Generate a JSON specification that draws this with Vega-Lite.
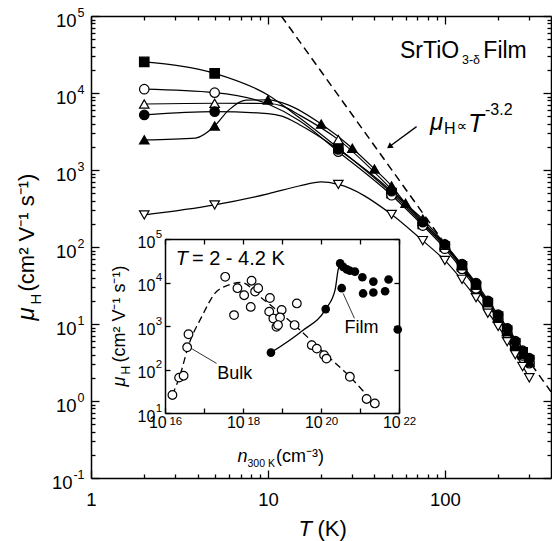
{
"$schema": "https://vega.github.io/schema/vega-lite/v6.json",
"width": 460, "height": 462,
"autosize": {"type": "none"},
"padding": {"left": 91, "top": 16, "right": 1, "bottom": 63},
"config": {"view": {"stroke": null}, "font": "Liberation Sans",
  "axis": {"grid": false, "domainColor": "black", "tickColor": "black", "labelColor": "black", "titleColor": "black", "domainWidth": 1.5, "tickWidth": 1.3, "labelFont": "Liberation Sans", "titleFont": "Liberation Sans", "titleFontWeight": "normal", "labelOverlap": false, "labelFlush": false, "labelBound": false}},
"datasets": {
 "dash": [{"T": 11.9, "mu": 100000}, {"T": 398, "mu": 1.32}],
 "curves": [
  {"s":"sq","T":2,"mu":25300},{"s":"sq","T":5,"mu":18000},{"s":"sq","T":10,"mu":9400},{"s":"sq","T":15,"mu":4800},{"s":"sq","T":25,"mu":1920},{"s":"sq","T":50,"mu":500},{"s":"sq","T":75,"mu":200},{"s":"sq","T":100,"mu":101},{"s":"sq","T":150,"mu":31},{"s":"sq","T":200,"mu":12.5},{"s":"sq","T":300,"mu":3.4},
  {"s":"oc","T":2,"mu":11200},{"s":"oc","T":5,"mu":10100},{"s":"oc","T":10,"mu":7200},{"s":"oc","T":15,"mu":4400},{"s":"oc","T":25,"mu":1730},{"s":"oc","T":50,"mu":470},{"s":"oc","T":75,"mu":190},{"s":"oc","T":100,"mu":95},{"s":"oc","T":150,"mu":29},{"s":"oc","T":200,"mu":11.5},{"s":"oc","T":300,"mu":3.1},
  {"s":"ot","T":2,"mu":7200},{"s":"ot","T":5,"mu":7360},{"s":"ot","T":10,"mu":7300},{"s":"ot","T":12,"mu":6800},{"s":"ot","T":15,"mu":5200},{"s":"ot","T":25,"mu":2480},{"s":"ot","T":50,"mu":560},{"s":"ot","T":75,"mu":215},{"s":"ot","T":100,"mu":105},{"s":"ot","T":150,"mu":32},{"s":"ot","T":200,"mu":12},{"s":"ot","T":300,"mu":3.2},
  {"s":"fc","T":2,"mu":5190},{"s":"fc","T":5,"mu":5730},{"s":"fc","T":10,"mu":5400},{"s":"fc","T":12,"mu":5000},{"s":"fc","T":15,"mu":3900},{"s":"fc","T":25,"mu":1850},{"s":"fc","T":50,"mu":530},{"s":"fc","T":75,"mu":210},{"s":"fc","T":100,"mu":108},{"s":"fc","T":150,"mu":34},{"s":"fc","T":200,"mu":13.2},{"s":"fc","T":300,"mu":3.6},
  {"s":"ft","T":2,"mu":2460},{"s":"ft","T":3.9,"mu":2600},{"s":"ft","T":5,"mu":3730},{"s":"ft","T":6,"mu":6000},{"s":"ft","T":7.5,"mu":8100},{"s":"ft","T":10,"mu":8130},{"s":"ft","T":13,"mu":7000},{"s":"ft","T":20,"mu":3950},{"s":"ft","T":30,"mu":1920},{"s":"ft","T":40,"mu":1030},{"s":"ft","T":50,"mu":620},{"s":"ft","T":60,"mu":370},{"s":"ft","T":75,"mu":230},{"s":"ft","T":100,"mu":110},{"s":"ft","T":150,"mu":32},{"s":"ft","T":200,"mu":12},{"s":"ft","T":300,"mu":3.2},
  {"s":"od","T":2,"mu":261},{"s":"od","T":5,"mu":352},{"s":"od","T":10,"mu":490},{"s":"od","T":15,"mu":620},{"s":"od","T":20,"mu":700},{"s":"od","T":25,"mu":650},{"s":"od","T":50,"mu":265},{"s":"od","T":75,"mu":121},{"s":"od","T":100,"mu":67},{"s":"od","T":150,"mu":22},{"s":"od","T":200,"mu":9.3},{"s":"od","T":300,"mu":2.0}
 ],
 "pts": [
  {"s":"sq","T":2,"mu":25300},{"s":"sq","T":5,"mu":18000},{"s":"sq","T":25,"mu":1920},{"s":"sq","T":50,"mu":500},{"s":"sq","T":75,"mu":200},{"s":"sq","T":100,"mu":101},{"s":"sq","T":125,"mu":56},{"s":"sq","T":150,"mu":31},{"s":"sq","T":175,"mu":18.7},{"s":"sq","T":200,"mu":12.5},{"s":"sq","T":225,"mu":8.2},{"s":"sq","T":250,"mu":5.6},{"s":"sq","T":275,"mu":4.3},{"s":"sq","T":300,"mu":3.4},
  {"s":"oc","T":2,"mu":11200},{"s":"oc","T":5,"mu":10100},{"s":"oc","T":25,"mu":1730},{"s":"oc","T":50,"mu":470},{"s":"oc","T":75,"mu":190},{"s":"oc","T":100,"mu":95},{"s":"oc","T":125,"mu":52},{"s":"oc","T":150,"mu":29},{"s":"oc","T":175,"mu":17},{"s":"oc","T":200,"mu":11.5},{"s":"oc","T":225,"mu":7.5},{"s":"oc","T":250,"mu":5.2},{"s":"oc","T":275,"mu":3.9},{"s":"oc","T":300,"mu":3.1},
  {"s":"ot","T":2,"mu":7200},{"s":"ot","T":5,"mu":7360},{"s":"ot","T":25,"mu":2480},{"s":"ot","T":50,"mu":560},{"s":"ot","T":75,"mu":215},{"s":"ot","T":100,"mu":105},{"s":"ot","T":125,"mu":57},{"s":"ot","T":150,"mu":32},{"s":"ot","T":175,"mu":19},{"s":"ot","T":200,"mu":12},{"s":"ot","T":225,"mu":8},{"s":"ot","T":250,"mu":5.5},{"s":"ot","T":275,"mu":4},{"s":"ot","T":300,"mu":3.2},
  {"s":"fc","T":2,"mu":5190},{"s":"fc","T":5,"mu":5730},{"s":"fc","T":25,"mu":1850},{"s":"fc","T":50,"mu":530},{"s":"fc","T":75,"mu":210},{"s":"fc","T":100,"mu":108},{"s":"fc","T":125,"mu":60},{"s":"fc","T":150,"mu":34},{"s":"fc","T":175,"mu":20},{"s":"fc","T":200,"mu":13.2},{"s":"fc","T":225,"mu":8.8},{"s":"fc","T":250,"mu":6},{"s":"fc","T":275,"mu":4.5},{"s":"fc","T":300,"mu":3.6},
  {"s":"ft","T":2,"mu":2460},{"s":"ft","T":5,"mu":3730},{"s":"ft","T":10,"mu":8130},{"s":"ft","T":20,"mu":3950},{"s":"ft","T":30,"mu":1920},{"s":"ft","T":40,"mu":1030},{"s":"ft","T":50,"mu":620},{"s":"ft","T":60,"mu":370},{"s":"ft","T":75,"mu":230},{"s":"ft","T":100,"mu":110},{"s":"ft","T":125,"mu":58},{"s":"ft","T":150,"mu":32},{"s":"ft","T":175,"mu":19},{"s":"ft","T":200,"mu":12},{"s":"ft","T":225,"mu":8},{"s":"ft","T":250,"mu":5.3},{"s":"ft","T":275,"mu":4},{"s":"ft","T":300,"mu":3.2},
  {"s":"od","T":2,"mu":261},{"s":"od","T":5,"mu":352},{"s":"od","T":25,"mu":650},{"s":"od","T":50,"mu":265},{"s":"od","T":75,"mu":121},{"s":"od","T":100,"mu":67},{"s":"od","T":125,"mu":38},{"s":"od","T":150,"mu":22},{"s":"od","T":175,"mu":13.8},{"s":"od","T":200,"mu":9.3},{"s":"od","T":225,"mu":5.9},{"s":"od","T":250,"mu":4.0},{"s":"od","T":275,"mu":2.8},{"s":"od","T":300,"mu":2.0}
 ],
 "arrow": [{"T": 69.2, "mu": 3660}, {"T": 48.7, "mu": 2020}],
 "arrowhead": [{"T": 48.6, "mu": 2010}],
 "mainBig": [{"T": 55.8, "mu": 28200, "t": "SrTiO"}, {"T": 165, "mu": 28200, "t": "Film"}],
 "mainProp": [{"T": 116.7, "mu": 3210, "t": "∝"}],
 "mainMu": [{"T": 82.3, "mu": 3310, "t": "μ"}],
 "mainT": [{"T": 135, "mu": 3070, "t": "T"}],
 "mainSub": [{"T": 125, "mu": 23800, "t": "3-δ"}],
 "mainSmall": [{"T": 98.9, "mu": 2940, "t": "H"}, {"T": 168.6, "mu": 5190, "t": "-3.2"}],
 "box": [{"x1": 1e16, "x2": 1e22, "y1": 10, "y2": 100000}],
 "bulkCurve": [{"n":1.55e16,"mu":26},{"n":2.5e16,"mu":80},{"n":4e16,"mu":355},{"n":8.7e16,"mu":1620},{"n":1.9e17,"mu":5600},{"n":4.2e17,"mu":8700},{"n":8.9e17,"mu":10000},{"n":3.2e18,"mu":4200},{"n":2.1e19,"mu":1050},{"n":1e20,"mu":280},{"n":5.5e20,"mu":68},{"n":2.4e21,"mu":16}],
 "filmCurve": [{"n":5.2e18,"mu":245},{"n":3.2e19,"mu":760},{"n":1.32e20,"mu":2450},{"n":2.3e20,"mu":6800},{"n":2.75e20,"mu":19500},{"n":3.1e20,"mu":27500}],
 "bulk": [{"n":1.55e16,"mu":26},{"n":2.3e16,"mu":65},{"n":3.0e16,"mu":72},{"n":3.7e16,"mu":324},{"n":4.0e16,"mu":646},{"n":3.5e17,"mu":13500},{"n":5.9e17,"mu":1780},{"n":7.2e17,"mu":7400},{"n":1.07e18,"mu":5100},{"n":1.66e18,"mu":11000},{"n":1.58e18,"mu":2750},{"n":2.04e18,"mu":6200},{"n":2.45e18,"mu":7400},{"n":4.9e18,"mu":4400},{"n":4.7e18,"mu":2140},{"n":6.0e18,"mu":1480},{"n":7.2e18,"mu":955},{"n":9.8e18,"mu":2340},{"n":8.9e18,"mu":1580},{"n":7.9e18,"mu":1050},{"n":2.4e19,"mu":3300},{"n":2.1e19,"mu":1050},{"n":5.8e19,"mu":363},{"n":7.8e19,"mu":302},{"n":1.2e20,"mu":214},{"n":1.38e20,"mu":178},{"n":5.5e20,"mu":68},{"n":1.48e21,"mu":21},{"n":2.4e21,"mu":16.6}],
 "film": [{"n":3.1e20,"mu":27500},{"n":3.7e20,"mu":22900},{"n":4.6e20,"mu":20000},{"n":5.5e20,"mu":18600},{"n":7.4e20,"mu":17800},{"n":1.15e21,"mu":13200},{"n":2.2e21,"mu":10500},{"n":5.4e21,"mu":11700},{"n":4.4e21,"mu":6300},{"n":2.2e21,"mu":5900},{"n":1.2e21,"mu":5600},{"n":3.4e20,"mu":7400},{"n":1.32e20,"mu":2450},{"n":9.3e21,"mu":830},{"n":5.2e18,"mu":245}],
 "leaders": [{"g":"b","n":4.8e16,"mu":302},{"g":"b","n":2.1e17,"mu":138},{"g":"f","n":3.7e20,"mu":5600},{"g":"f","n":7.2e20,"mu":1500}],
 "inItal": [{"n":1.9e16,"mu":25300,"t":"T"}],
 "inBig": [{"n":4.9e16,"mu":25300,"t":"= 2 - 4.2 K"}],
 "inMid": [{"n":2.2e17,"mu":62,"t":"Bulk"},{"n":4e20,"mu":690,"t":"Film"}]
},
"layer": [
 {
  "layer": [
   {"data": {"name": "dash"}, "mark": {"type": "line", "color": "black", "strokeWidth": 1.5, "strokeDash": [8, 5], "clip": true},
    "encoding": {
     "x": {"field": "T", "type": "quantitative", "scale": {"type": "log", "domain": [1, 398], "nice": false},
       "axis": {"orient": "bottom", "values": [1,2,3,4,5,6,7,8,9,10,20,30,40,50,60,70,80,90,100,200,300], "format": "d",
         "labelExpr": "datum.value==1||datum.value==10||datum.value==100 ? datum.label : ''",
         "tickSize": {"condition": {"test": "datum.value==1||datum.value==10||datum.value==100", "value": -8}, "value": -4},
         "labelPadding": 20, "labelFontSize": 18.5,
         "title": "(K)", "titleFontSize": 22, "titleX": 226, "titleY": 57, "titleAlign": "left", "titleBaseline": "alphabetic"}},
     "y": {"field": "mu", "type": "quantitative", "scale": {"type": "log", "domain": [0.1, 100000], "nice": false},
       "axis": {"orient": "left", "values": [0.1,0.2,0.3,0.4,0.5,0.6,0.7,0.8,0.9,1,2,3,4,5,6,7,8,9,10,20,30,40,50,60,70,80,90,100,200,300,400,500,600,700,800,900,1000,2000,3000,4000,5000,6000,7000,8000,9000,10000,20000,30000,40000,50000,60000,70000,80000,90000,100000],
         "labelExpr": "indexof([0.1,1,10,100,1000,10000,100000], datum.value) >= 0 ? '10' : ''",
         "tickSize": {"condition": {"test": "indexof([0.1,1,10,100,1000,10000,100000], datum.value) >= 0", "value": -8}, "value": -4},
         "labelPadding": {"condition": {"test": "datum.value==0.1", "value": 27}, "value": 23}, "labelOffset": 4.5, "labelFontSize": 18.5,
         "title": null}}
    }},
   {"data": {"name": "curves"}, "mark": {"type": "line", "color": "black", "strokeWidth": 1.2, "interpolate": "monotone"},
    "encoding": {
     "x": {"field": "T", "type": "quantitative", "scale": {"type": "log", "domain": [1, 398], "nice": false},
       "axis": {"orient": "top", "values": [1,2,3,4,5,6,7,8,9,10,20,30,40,50,60,70,80,90,100,200,300], "labels": false,
         "tickSize": {"condition": {"test": "datum.value==1||datum.value==10||datum.value==100", "value": -8}, "value": -4}, "title": null}},
     "y": {"field": "mu", "type": "quantitative", "scale": {"type": "log", "domain": [0.1, 100000], "nice": false},
       "axis": {"orient": "right", "values": [0.1,0.2,0.3,0.4,0.5,0.6,0.7,0.8,0.9,1,2,3,4,5,6,7,8,9,10,20,30,40,50,60,70,80,90,100,200,300,400,500,600,700,800,900,1000,2000,3000,4000,5000,6000,7000,8000,9000,10000,20000,30000,40000,50000,60000,70000,80000,90000,100000], "labels": false,
         "tickSize": {"condition": {"test": "indexof([0.1,1,10,100,1000,10000,100000], datum.value) >= 0", "value": -8}, "value": -4}, "title": null}},
     "detail": {"field": "s"}
    }},
   {"data": {"name": "pts"}, "mark": {"type": "point", "filled": true, "size": 90, "stroke": "black", "strokeWidth": 1.2, "opacity": 1},
    "encoding": {
     "x": {"field": "T", "type": "quantitative", "scale": {"type": "log", "domain": [1, 398], "nice": false},
       "axis": {"orient": "bottom", "ticks": false, "labels": false, "domain": false, "title": "T", "titleFontStyle": "italic", "titleFontSize": 22, "titleX": 207, "titleY": 57, "titleAlign": "left", "titleBaseline": "alphabetic"}},
     "y": {"field": "mu", "type": "quantitative", "scale": {"type": "log", "domain": [0.1, 100000], "nice": false},
       "axis": {"orient": "left", "ticks": false, "labels": false, "domain": false, "title": "μ", "titleFontStyle": "italic", "titleFontSize": 24, "titleX": -58, "titleY": 304, "titleAlign": "left", "titleAngle": -90, "titleBaseline": "alphabetic"}},
     "shape": {"field": "s", "scale": {"domain": ["sq","oc","ot","fc","ft","od"], "range": ["square","circle","triangle-up","circle","triangle-up","triangle-down"]}, "legend": null},
     "fill": {"field": "s", "scale": {"domain": ["sq","oc","ot","fc","ft","od"], "range": ["black","white","white","black","black","white"]}, "legend": null}
    }},
   {"data": {"name": "arrow"}, "mark": {"type": "line", "color": "black", "strokeWidth": 1.3},
    "encoding": {
     "x": {"field": "T", "type": "quantitative", "scale": {"type": "log", "domain": [1, 398], "nice": false}, "axis": null},
     "y": {"field": "mu", "type": "quantitative", "scale": {"type": "log", "domain": [0.1, 100000], "nice": false},
       "axis": {"orient": "left", "ticks": false, "labels": false, "domain": false, "title": "H", "titleFontSize": 15, "titleX": -51, "titleY": 288, "titleAlign": "left", "titleAngle": -90, "titleBaseline": "alphabetic"}}
    }},
   {"data": {"name": "arrowhead"}, "mark": {"type": "point", "shape": "triangle-up", "angle": 234, "filled": true, "color": "black", "size": 45, "opacity": 1},
    "encoding": {
     "x": {"field": "T", "type": "quantitative", "axis": null},
     "y": {"field": "mu", "type": "quantitative",
       "axis": {"orient": "left", "values": [0.1,1,10,100,1000,10000,100000], "ticks": false, "tickSize": 0, "domain": false,
         "labelExpr": "datum.value==0.1?'-1':datum.value==1?'0':datum.value==10?'1':datum.value==100?'2':datum.value==1000?'3':datum.value==10000?'4':datum.value==100000?'5':''",
         "labelPadding": 7, "labelOffset": -4, "labelFontSize": 12.5,
         "title": "(cm² V⁻¹ s⁻¹)", "titleFontSize": 22, "titleX": -58, "titleY": 275, "titleAlign": "left", "titleAngle": -90, "titleBaseline": "alphabetic"}}
    }},
   {"data": {"name": "mainBig"}, "mark": {"type": "text", "align": "left", "baseline": "alphabetic", "fontSize": 23, "font": "Liberation Sans", "color": "black"},
    "encoding": {"x": {"field": "T", "type": "quantitative", "axis": null}, "y": {"field": "mu", "type": "quantitative", "axis": null}, "text": {"field": "t"}}},
   {"data": {"name": "mainProp"}, "mark": {"type": "text", "align": "left", "baseline": "alphabetic", "fontSize": 15, "font": "DejaVu Sans", "color": "black"},
    "encoding": {"x": {"field": "T", "type": "quantitative", "axis": null}, "y": {"field": "mu", "type": "quantitative", "axis": null}, "text": {"field": "t"}}},
   {"data": {"name": "mainMu"}, "mark": {"type": "text", "align": "left", "baseline": "alphabetic", "fontSize": 24, "fontStyle": "italic", "font": "Liberation Sans", "color": "black"},
    "encoding": {"x": {"field": "T", "type": "quantitative", "axis": null}, "y": {"field": "mu", "type": "quantitative", "axis": null}, "text": {"field": "t"}}},
   {"data": {"name": "mainT"}, "mark": {"type": "text", "align": "left", "baseline": "alphabetic", "fontSize": 26, "fontStyle": "italic", "font": "Liberation Sans", "color": "black"},
    "encoding": {"x": {"field": "T", "type": "quantitative", "axis": null}, "y": {"field": "mu", "type": "quantitative", "axis": null}, "text": {"field": "t"}}},
   {"data": {"name": "mainSub"}, "mark": {"type": "text", "align": "left", "baseline": "alphabetic", "fontSize": 12.5, "font": "Liberation Sans", "color": "black"},
    "encoding": {"x": {"field": "T", "type": "quantitative", "axis": null}, "y": {"field": "mu", "type": "quantitative", "axis": null}, "text": {"field": "t"}}},
   {"data": {"name": "mainSmall"}, "mark": {"type": "text", "align": "left", "baseline": "alphabetic", "fontSize": 16, "font": "Liberation Sans", "color": "black"},
    "encoding": {"x": {"field": "T", "type": "quantitative", "axis": null}, "y": {"field": "mu", "type": "quantitative", "axis": null}, "text": {"field": "t"}}}
  ],
  "resolve": {"axis": {"x": "independent", "y": "independent"}}
 },
 {
  "layer": [
   {"data": {"name": "box"}, "mark": {"type": "rect", "fill": "white", "stroke": null},
    "encoding": {
     "x": {"field": "x1", "type": "quantitative", "scale": {"type": "log", "domain": [1e16, 1e22], "range": [74, 308], "nice": false},
       "axis": {"orient": "bottom", "offset": -65, "zindex": 1, "values": [1e16,1e17,1e18,1e19,1e20,1e21,1e22],
         "labelExpr": "datum.value==1e16||datum.value==1e18||datum.value==1e20||datum.value==1e22 ? '10' : ''",
         "tickSize": -5, "labelPadding": 19.5, "labelBaseline": "alphabetic", "labelOffset": -7.7, "labelFontSize": 16,
         "title": "(cm⁻³)", "titleFontSize": 18, "titleX": 184.5, "titleY": 48, "titleAlign": "left", "titleBaseline": "alphabetic"}},
     "x2": {"field": "x2"},
     "y": {"field": "y1", "type": "quantitative", "scale": {"type": "log", "domain": [10, 100000], "range": [397, 223], "nice": false},
       "axis": {"orient": "left", "offset": -74, "zindex": 1, "values": [10,100,1000,10000,100000],
         "labelExpr": "'10'",
         "tickSize": -5, "labelPadding": 15.2, "labelOffset": 3, "labelFontSize": 16,
         "title": "(cm² V⁻¹ s⁻¹)", "titleFontSize": 18, "titleX": -41, "titleY": 346, "titleAlign": "left", "titleAngle": -90, "titleBaseline": "alphabetic"}},
     "y2": {"field": "y2"}
    }},
   {"data": {"name": "bulkCurve"}, "mark": {"type": "line", "color": "black", "strokeWidth": 1.3, "strokeDash": [7, 4], "interpolate": "monotone"},
    "encoding": {
     "x": {"field": "n", "type": "quantitative", "scale": {"type": "log", "domain": [1e16, 1e22], "range": [74, 308], "nice": false},
       "axis": {"orient": "top", "offset": -223, "zindex": 1, "values": [1e16,1e17,1e18,1e19,1e20,1e21,1e22], "labels": false, "tickSize": -5, "title": null}},
     "y": {"field": "mu", "type": "quantitative", "scale": {"type": "log", "domain": [10, 100000], "range": [397, 223], "nice": false},
       "axis": {"orient": "right", "offset": -152, "zindex": 1, "values": [10,100,1000,10000,100000], "labels": false, "tickSize": -5, "title": null}}
    }},
   {"data": {"name": "filmCurve"}, "mark": {"type": "line", "color": "black", "strokeWidth": 1.3, "interpolate": "monotone"},
    "encoding": {
     "x": {"field": "n", "type": "quantitative", "scale": {"type": "log", "domain": [1e16, 1e22], "range": [74, 308], "nice": false},
       "axis": {"orient": "bottom", "offset": -65, "zindex": 1, "ticks": false, "labels": false, "domain": false, "title": "n", "titleFontStyle": "italic", "titleFontSize": 18, "titleX": 146, "titleY": 48, "titleAlign": "left", "titleBaseline": "alphabetic"}},
     "y": {"field": "mu", "type": "quantitative", "scale": {"type": "log", "domain": [10, 100000], "range": [397, 223], "nice": false},
       "axis": {"orient": "left", "offset": -74, "zindex": 1, "ticks": false, "labels": false, "domain": false, "title": "μ", "titleFontStyle": "italic", "titleFontSize": 18, "titleX": -41, "titleY": 370, "titleAlign": "left", "titleAngle": -90, "titleBaseline": "alphabetic"}}
    }},
   {"data": {"name": "bulk"}, "mark": {"type": "point", "shape": "circle", "size": 75, "filled": true, "fill": "white", "stroke": "black", "strokeWidth": 1.2, "opacity": 1},
    "encoding": {
     "x": {"field": "n", "type": "quantitative", "scale": {"type": "log", "domain": [1e16, 1e22], "range": [74, 308], "nice": false},
       "axis": {"orient": "bottom", "offset": -65, "zindex": 1, "ticks": false, "labels": false, "domain": false, "title": "300 K", "titleFontSize": 10.5, "titleX": 156, "titleY": 53, "titleAlign": "left", "titleBaseline": "alphabetic"}},
     "y": {"field": "mu", "type": "quantitative", "scale": {"type": "log", "domain": [10, 100000], "range": [397, 223], "nice": false},
       "axis": {"orient": "left", "offset": -74, "zindex": 1, "ticks": false, "labels": false, "domain": false, "title": "H", "titleFontSize": 12, "titleX": -36, "titleY": 358, "titleAlign": "left", "titleAngle": -90, "titleBaseline": "alphabetic"}}
    }},
   {"data": {"name": "film"}, "mark": {"type": "point", "shape": "circle", "size": 75, "filled": true, "color": "black", "opacity": 1},
    "encoding": {
     "x": {"field": "n", "type": "quantitative", "scale": {"type": "log", "domain": [1e16, 1e22], "range": [74, 308], "nice": false},
       "axis": {"orient": "bottom", "offset": -65, "zindex": 1, "values": [1e16,1e18,1e20,1e22], "ticks": false, "tickSize": 0, "domain": false,
         "labelExpr": "datum.value==1e16?'16':datum.value==1e18?'18':datum.value==1e20?'20':datum.value==1e22?'22':''",
         "labelPadding": 11, "labelBaseline": "alphabetic", "labelOffset": 10.3, "labelFontSize": 11.5, "title": null}},
     "y": {"field": "mu", "type": "quantitative", "scale": {"type": "log", "domain": [10, 100000], "range": [397, 223], "nice": false},
       "axis": {"orient": "left", "offset": -74, "zindex": 1, "values": [10,100,1000,10000,100000], "ticks": false, "tickSize": 0, "domain": false,
         "labelExpr": "datum.value==10?'1':datum.value==100?'2':datum.value==1000?'3':datum.value==10000?'4':datum.value==100000?'5':''",
         "labelPadding": 3.3, "labelOffset": -5, "labelFontSize": 11.5, "title": null}}
    }},
   {"data": {"name": "leaders"}, "mark": {"type": "line", "color": "black", "strokeWidth": 0.8},
    "encoding": {"x": {"field": "n", "type": "quantitative", "axis": null}, "y": {"field": "mu", "type": "quantitative", "axis": null}, "detail": {"field": "g"}}},
   {"data": {"name": "inItal"}, "mark": {"type": "text", "align": "left", "baseline": "alphabetic", "fontSize": 20, "fontStyle": "italic", "font": "Liberation Sans", "color": "black"},
    "encoding": {"x": {"field": "n", "type": "quantitative", "axis": null}, "y": {"field": "mu", "type": "quantitative", "axis": null}, "text": {"field": "t"}}},
   {"data": {"name": "inBig"}, "mark": {"type": "text", "align": "left", "baseline": "alphabetic", "fontSize": 20, "font": "Liberation Sans", "color": "black"},
    "encoding": {"x": {"field": "n", "type": "quantitative", "axis": null}, "y": {"field": "mu", "type": "quantitative", "axis": null}, "text": {"field": "t"}}},
   {"data": {"name": "inMid"}, "mark": {"type": "text", "align": "left", "baseline": "alphabetic", "fontSize": 18, "font": "Liberation Sans", "color": "black"},
    "encoding": {"x": {"field": "n", "type": "quantitative", "axis": null}, "y": {"field": "mu", "type": "quantitative", "axis": null}, "text": {"field": "t"}}}
  ],
  "resolve": {"axis": {"x": "independent", "y": "independent"}}
 }
],
"resolve": {"scale": {"x": "independent", "y": "independent"}}
}
